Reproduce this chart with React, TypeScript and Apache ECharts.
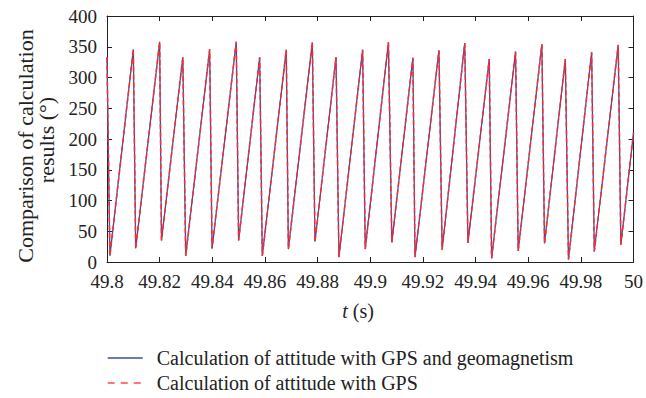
import React, { useEffect, useRef } from "react";
import * as echarts from "echarts";

const timeS = [
  49.8, 49.8011, 49.81, 49.8109, 49.82, 49.8207, 49.8288, 49.8299, 49.839, 49.8399,
  49.8491, 49.85, 49.858, 49.859, 49.8681, 49.8689, 49.878, 49.879, 49.887, 49.8881,
  49.8971, 49.8981, 49.9069, 49.9082, 49.9162, 49.917, 49.9261, 49.9273, 49.9359, 49.9371,
  49.9452, 49.9461, 49.9552, 49.9562, 49.9652, 49.9662, 49.9741, 49.9753, 49.9841, 49.9851,
  49.9942, 49.9952, 50.0,
];
const gpsMagValues = [
  333, 10, 346, 22, 358, 35, 333, 10, 346, 22,
  358, 35, 333, 10, 345, 21, 357, 33, 333, 8,
  345, 21, 357, 32, 332, 8, 344, 20, 356, 31,
  330, 6, 342, 18, 354, 30, 330, 4, 341, 17,
  353, 28, 210,
];
const gpsValues = [
  333, 10, 346, 22, 358, 35, 333, 10, 346, 22,
  358, 35, 333, 10, 345, 21, 357, 33, 333, 8,
  345, 21, 357, 32, 332, 8, 344, 20, 356, 31,
  330, 6, 342, 18, 354, 30, 330, 4, 341, 17,
  353, 28, 210,
];
const seriesNames = [
  "Calculation of attitude with GPS and geomagnetism",
  "Calculation of attitude with GPS",
];
const xMin = 49.8;
const xMax = 50;
const xStep = 0.02;
const yMin = 0;
const yMax = 400;
const yStep = 50;

const FONT = "Liberation Serif";
const AXIS_COLOR = "#222";

export default function App() {
  const ref = useRef<HTMLDivElement>(null);
  useEffect(() => {
    if (!ref.current) return;
    const chart = echarts.init(ref.current, undefined, { renderer: "svg" });
    const pairs = (vals: number[]) => timeS.map((t, i) => [t, vals[i]]);
    const grid = { left: 107, right: 11, top: 16, bottom: 136 };
    const baseX = {
      type: "value",
      min: xMin,
      max: xMax,
      interval: xStep,
      splitLine: { show: false },
      axisLine: { show: true, onZero: false, lineStyle: { color: AXIS_COLOR, width: 1 } },
      axisTick: { show: true, inside: true, length: 5, lineStyle: { color: AXIS_COLOR } },
    };
    const baseY = {
      type: "value",
      min: yMin,
      max: yMax,
      interval: yStep,
      splitLine: { show: false },
      axisLine: { show: true, onZero: false, lineStyle: { color: AXIS_COLOR, width: 1 } },
      axisTick: { show: true, inside: true, length: 5, lineStyle: { color: AXIS_COLOR } },
    };
    chart.setOption({
      animation: false,
      textStyle: { fontFamily: FONT },
      grid,
      xAxis: [
        {
          ...baseX,
          position: "bottom",
          axisLabel: {
            show: true,
            margin: 10,
            color: "#222",
            fontFamily: FONT,
            fontSize: 19,
            formatter: (v: number) => String(parseFloat(v.toFixed(2))),
          },
        },
        { ...baseX, position: "top", axisLabel: { show: false } },
      ],
      yAxis: [
        {
          ...baseY,
          position: "left",
          axisLabel: {
            show: true,
            margin: 10,
            color: "#222",
            fontFamily: FONT,
            fontSize: 19,
          },
        },
        { ...baseY, position: "right", axisLabel: { show: false } },
      ],
      legend: {
        orient: "vertical",
        left: 107,
        top: 348,
        itemWidth: 35,
        itemHeight: 12,
        itemGap: 5,
        padding: 0,
        itemStyle: { opacity: 0 },
        textStyle: {
          fontFamily: FONT,
          fontSize: 20,
          color: "#222",
          padding: [0, 0, 0, 9],
        },
        data: [
          { name: seriesNames[0], lineStyle: { width: 1.3, color: "#3b4ea3" } },
          { name: seriesNames[1], lineStyle: { width: 1.5, color: "#ff4a4a", type: [7, 6] } },
        ],
      },
      graphic: [
        {
          type: "text",
          x: 25,
          y: 146,
          rotation: Math.PI / 2,
          style: {
            text: "Comparison of calculation",
            fontFamily: FONT,
            fontSize: 22,
            fill: "#222",
            align: "center",
            verticalAlign: "middle",
          },
        },
        {
          type: "text",
          x: 46,
          y: 140,
          rotation: Math.PI / 2,
          style: {
            text: "results (°)",
            fontFamily: FONT,
            fontSize: 22,
            fill: "#222",
            align: "center",
            verticalAlign: "middle",
          },
        },
        {
          type: "text",
          x: 358,
          y: 311,
          style: {
            text: "{i|t} (s)",
            fontFamily: FONT,
            fontSize: 20,
            fill: "#222",
            align: "center",
            verticalAlign: "middle",
            rich: {
              i: { fontFamily: FONT, fontSize: 20, fontStyle: "italic", fill: "#222" },
            },
          },
        },
      ],
      series: [
        {
          name: seriesNames[0],
          type: "line",
          data: pairs(gpsMagValues),
          symbol: "none",
          clip: true,
          lineStyle: { color: "#3b4ea3", width: 1.3, type: "solid" },
          itemStyle: { color: "#3b4ea3" },
        },
        {
          name: seriesNames[1],
          type: "line",
          data: pairs(gpsValues),
          symbol: "none",
          clip: true,
          lineStyle: { color: "#ff2a2a", width: 1.5, type: [5, 3] },
          itemStyle: { color: "#ff2a2a" },
        },
      ],
    });
    return () => chart.dispose();
  }, []);
  return (
    <div
      ref={ref}
      style={{ position: "absolute", left: 0, top: 0, width: 646, height: 398 }}
    />
  );
}
